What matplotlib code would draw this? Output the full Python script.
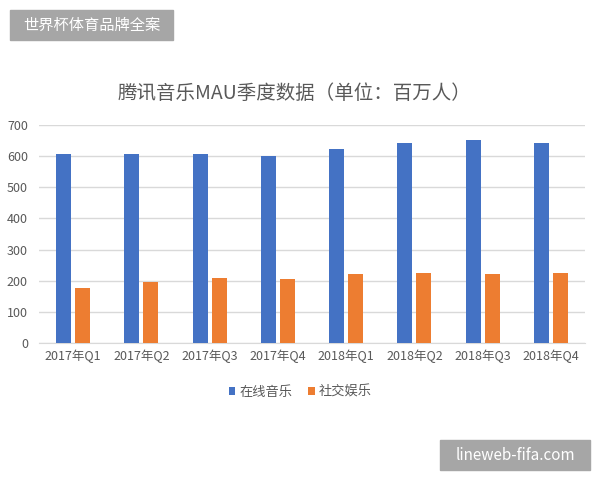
import matplotlib
matplotlib.use("Agg")
import matplotlib.pyplot as plt
import numpy as np

plt.rcParams['font.family'] = ['Noto Sans CJK SC', 'DejaVu Sans']

categories = ["2017年Q1", "2017年Q2", "2017年Q3", "2017年Q4",
              "2018年Q1", "2018年Q2", "2018年Q3", "2018年Q4"]
online_music = [606, 606, 606, 601, 623, 641, 652, 641]
social_ent = [178, 196, 210, 206, 222, 225, 222, 225]
series_names = ["在线音乐", "社交娱乐"]
yticks = [0, 100, 200, 300, 400, 500, 600, 700]
title = "腾讯音乐MAU季度数据（单位：百万人）"

fig = plt.figure(figsize=(6, 4.8), dpi=100)
ax = fig.add_axes([0.065, 0.2854, 0.91, 0.4542])

x = np.arange(len(categories))
w = 0.22
gap = 0.055
b1 = ax.bar(x - (w + gap) / 2, online_music, width=w, color="#4472C4", label=series_names[0], zorder=3)
b2 = ax.bar(x + (w + gap) / 2, social_ent, width=w, color="#ED7D31", label=series_names[1], zorder=3)

ax.set_xlim(-0.5, len(categories) - 0.5)
ax.set_ylim(0, 700)
ax.set_yticks(yticks)
ax.set_xticks(x)
ax.set_xticklabels(categories)
ax.grid(axis='y', color="#d9d9d9", linewidth=1, zorder=0)
for s in ['top', 'right', 'left']:
    ax.spines[s].set_visible(False)
ax.spines['bottom'].set_color("#d9d9d9")
ax.tick_params(axis='both', length=0, labelsize=9, colors="#595959")
ax.tick_params(axis='y', pad=8)
ax.tick_params(axis='x', pad=5)

fig.text(0.49, 0.806, title, ha='center', va='center', fontsize=14, color="#595959")

leg = fig.legend(handles=[b1, b2], labels=series_names, loc='center', bbox_to_anchor=(0.5, 0.183),
                 ncol=2, frameon=False, fontsize=9.5, handlelength=0.5, handleheight=0.5,
                 handletextpad=0.3, columnspacing=1.2, labelcolor="#595959")

# watermark boxes
fig.patches.append(plt.Rectangle((10 / 600, 1 - 40 / 480), 163 / 600, 30 / 480,
                                 transform=fig.transFigure, color="#a6a6a6", zorder=5))
fig.text(91.5 / 600, 1 - 25 / 480, "世界杯体育品牌全案", ha='center', va='center',
         fontsize=11, color="white", zorder=6)
fig.patches.append(plt.Rectangle((440 / 600, 1 - 470 / 480), 150 / 600, 30 / 480,
                                 transform=fig.transFigure, color="#a6a6a6", zorder=5))
fig.text(515 / 600, 1 - 455 / 480, "lineweb-fifa.com", ha='center', va='center',
         fontsize=11, color="white", zorder=6)

fig.savefig("out.png", dpi=100)
